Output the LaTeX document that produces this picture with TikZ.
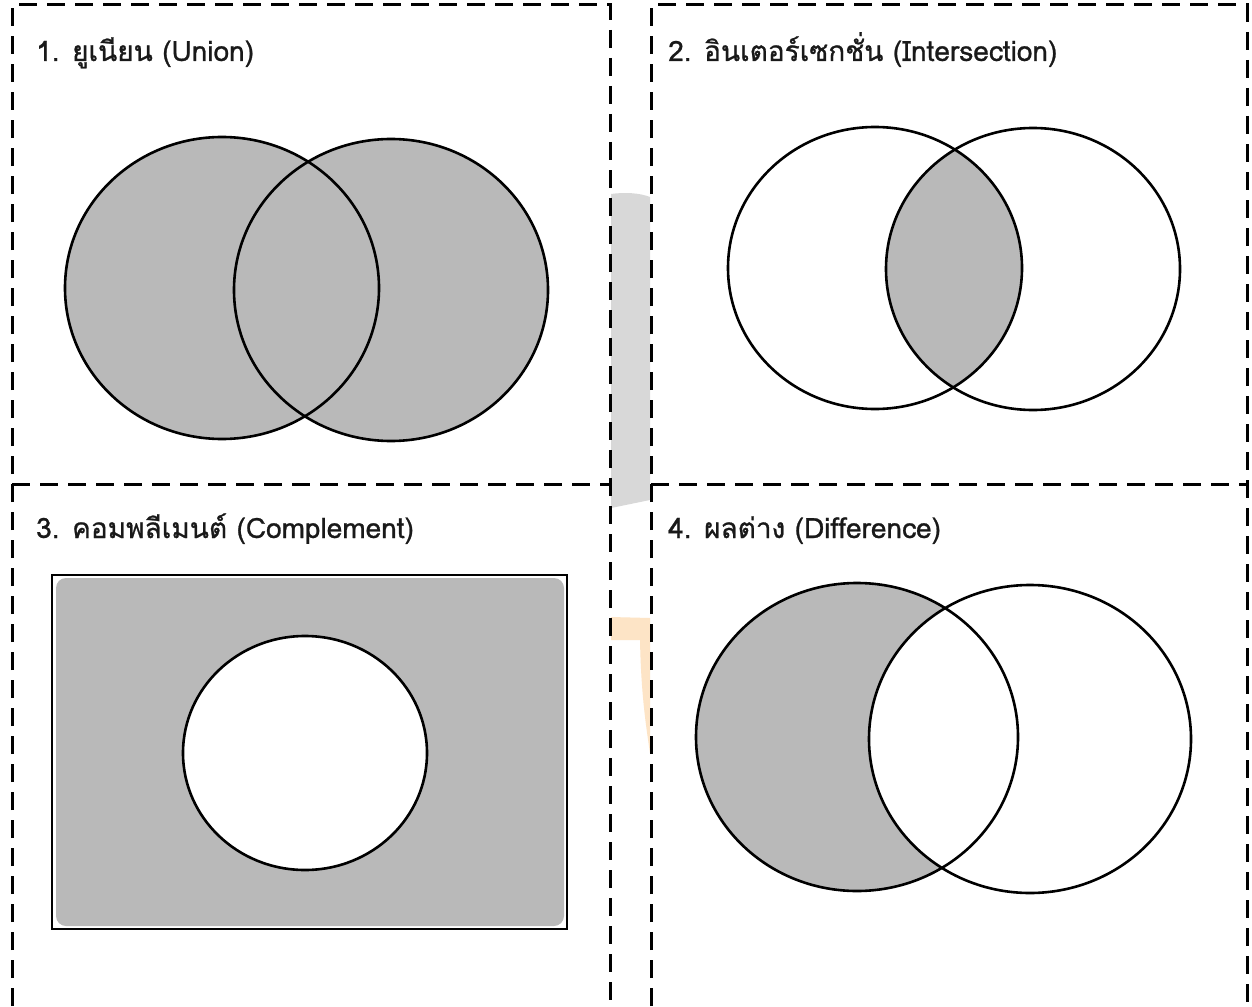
\documentclass[tikz,border=0pt]{standalone}
\usepackage{fontspec}
\newfontfamily\thaifont[Script=Thai,FakeBold=0.9]{Loma}
\definecolor{setgrey}{RGB}{185,185,185}
\definecolor{wmgrey}{RGB}{216,216,216}
\definecolor{wmorange}{RGB}{253,228,198}
\tikzset{
  panelline/.style={line width=3pt, dash pattern=on 18pt off 10pt},
  setline/.style={line width=2.6pt},
  titletext/.style={anchor=base west, inner sep=0pt, text=black!90, font=\thaifont\fontsize{28}{33}\selectfont}
}
\begin{document}
\begin{tikzpicture}[x=1pt,y=-1pt]
\useasboundingbox (0,0) rectangle (1252,1006);
\fill[white] (0,0) rectangle (1252,1006);
% watermark remnants between the panels
\fill[wmgrey] (611,194) .. controls (625,192) and (640,193) .. (650,197) -- (650,500) -- (611,508) -- cycle;
\fill[wmorange] (611,617) -- (650,618) -- (650,753) .. controls (645,720) and (641,690) .. (640,640) -- (611,640) -- cycle;
% panel borders
\draw[panelline] (12,1006) -- (12,5) -- (610,5) -- (610,1006);
\draw[panelline] (651,1006) -- (651,5) -- (1247,5) -- (1247,1006);
\draw[panelline] (12,484) -- (610,484);
\draw[panelline] (651,484) -- (1247,484);
% titles
\node[titletext] (t1) at (36,61) {1. ยูเนียน (Union)};
\node[titletext] (t2) at (668,61) {2. อินเตอร์เซกชั่น (Intersection)};
\node[titletext] (t3) at (36,538) {3. คอมพลีเมนต์ (Complement)};
\node[titletext] (t4) at (668,538) {4. ผลต่าง (Difference)};
% 1. Union
\fill[setgrey] (222,288) ellipse [x radius=157pt, y radius=151pt];
\fill[setgrey] (391,290) ellipse [x radius=157pt, y radius=151pt];
\draw[setline] (222,288) ellipse [x radius=157pt, y radius=151pt];
\draw[setline] (391,290) ellipse [x radius=157pt, y radius=151pt];
% 2. Intersection
\begin{scope}
  \clip (875,268) ellipse [x radius=147pt, y radius=141pt];
  \fill[setgrey] (1033,269) ellipse [x radius=147pt, y radius=141pt];
\end{scope}
\draw[setline] (875,268) ellipse [x radius=147pt, y radius=141pt];
\draw[setline] (1033,269) ellipse [x radius=147pt, y radius=141pt];
% 3. Complement
\fill[setgrey, rounded corners=10pt] (56,578) rectangle (564,926);
\fill[white] (305,753) ellipse [x radius=122pt, y radius=117pt];
\draw[setline] (52,575) rectangle (567,929);
\draw[setline] (305,753) ellipse [x radius=122pt, y radius=117pt];
% 4. Difference
\fill[setgrey] (857,737) ellipse [x radius=161pt, y radius=154pt];
\fill[white] (1030,739) ellipse [x radius=161pt, y radius=154pt];
\draw[setline] (857,737) ellipse [x radius=161pt, y radius=154pt];
\draw[setline] (1030,739) ellipse [x radius=161pt, y radius=154pt];
\end{tikzpicture}
\end{document}
